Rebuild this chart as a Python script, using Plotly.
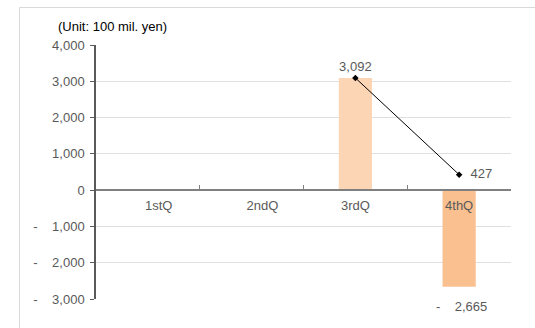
import plotly.graph_objects as go

# Quarterly figures (unit: 100 mil. yen)
quarters = ["1stQ", "2ndQ", "3rdQ", "4thQ"]
bar_values = [None, None, 3092, -2665]
bar_colors = ["#FCD5B5", "#FCD5B5", "#FCD5B5", "#FAC090"]
line_values = [None, None, 3092, 427]
y_ticks = [4000, 3000, 2000, 1000, 0, -1000, -2000, -3000]
# leading padding (in non-breaking spaces) of each category label
label_pad = [6, 6, 0, 0]

W, H = 535, 328
ML, MR, MT, MB = 96, 24, 45, 29
Y_MIN, Y_MAX = -3000, 4000

NBSP = "\u00a0"


def acct(v):
    """Accounting style: minus sign set apart from the figure."""
    if v < 0:
        return "-" + NBSP * 4 + f"{abs(v):,.0f}"
    return f"{v:,.0f}"


def px_x(px):
    return (px - ML) / (W - ML - MR)


def px_y(py):
    return (H - MB - py) / (H - MT - MB)


font_family = "Liberation Sans, Arial, sans-serif"
txt_color = "#595959"

fig = go.Figure()

fig.add_trace(go.Bar(
    x=quarters, y=bar_values,
    marker=dict(color=bar_colors, line=dict(width=0)),
    hoverinfo="skip", showlegend=False,
))

line_text = ["" if v is None else acct(v) for v in line_values]
line_text = [t if i < len(line_text) - 1 else NBSP * 2 + t
             for i, t in enumerate(line_text)]
fig.add_trace(go.Scatter(
    x=quarters, y=line_values,
    mode="lines+markers+text",
    line=dict(color="#000000", width=1),
    marker=dict(symbol="diamond", size=5, color="#000000"),
    text=line_text,
    textposition=["top center", "top center", "top center", "middle right"],
    textfont=dict(family=font_family, size=13, color=txt_color),
    showlegend=False, connectgaps=False,
))

# label under the negative bar
annotations = []
for q, v in zip(quarters, bar_values):
    if v is not None and v < 0:
        annotations.append(dict(
            x=q, y=v, xref="x", yref="y", text=acct(v), showarrow=False,
            yanchor="top", yshift=-10, xshift=2,
            font=dict(family=font_family, size=13, color=txt_color),
        ))

annotations.append(dict(
    x=px_x(56), y=px_y(27), xref="paper", yref="paper",
    text="(Unit: 100 mil. yen)", showarrow=False,
    xanchor="left", yanchor="middle",
    font=dict(family=font_family, size=13, color="#000000"),
))

shapes = [
    dict(type="line", xref="paper", yref="paper",
         x0=px_x(19.5), x1=px_x(536), y0=px_y(7.5), y1=px_y(7.5),
         line=dict(color="#d9d9d9", width=1)),
    dict(type="line", xref="paper", yref="paper",
         x0=px_x(19.5), x1=px_x(19.5), y0=px_y(7.5), y1=px_y(330),
         line=dict(color="#d9d9d9", width=1)),
]

zero_pos = (0 - Y_MIN) / (Y_MAX - Y_MIN)

fig.update_layout(
    width=W, height=H,
    margin=dict(l=ML, r=MR, t=MT, b=MB, pad=0),
    paper_bgcolor="white", plot_bgcolor="white",
    bargap=0.68,
    font=dict(family=font_family, size=13, color=txt_color),
    annotations=annotations, shapes=shapes,
    xaxis=dict(
        type="category", anchor="free", position=zero_pos,
        tickvals=quarters,
        ticktext=[NBSP * p + q for p, q in zip(label_pad, quarters)],
        showline=True, linecolor="#808080", linewidth=1.5,
        ticks="inside", tickson="boundaries", ticklen=4, tickcolor="#808080",
        showgrid=False, zeroline=False,
        tickfont=dict(family=font_family, size=13, color=txt_color),
        ticklabelstandoff=4,
    ),
    yaxis=dict(
        range=[Y_MIN, Y_MAX], tickvals=y_ticks,
        ticktext=[acct(v) for v in y_ticks],
        showline=True, linecolor="#595959", linewidth=1.5,
        ticks="outside", ticklen=4, tickcolor="#595959",
        showgrid=True, gridcolor="#e0e0e0", gridwidth=1,
        zeroline=False, ticklabelstandoff=3,
        tickfont=dict(family=font_family, size=13, color=txt_color),
    ),
)

fig.write_html("out.html")
